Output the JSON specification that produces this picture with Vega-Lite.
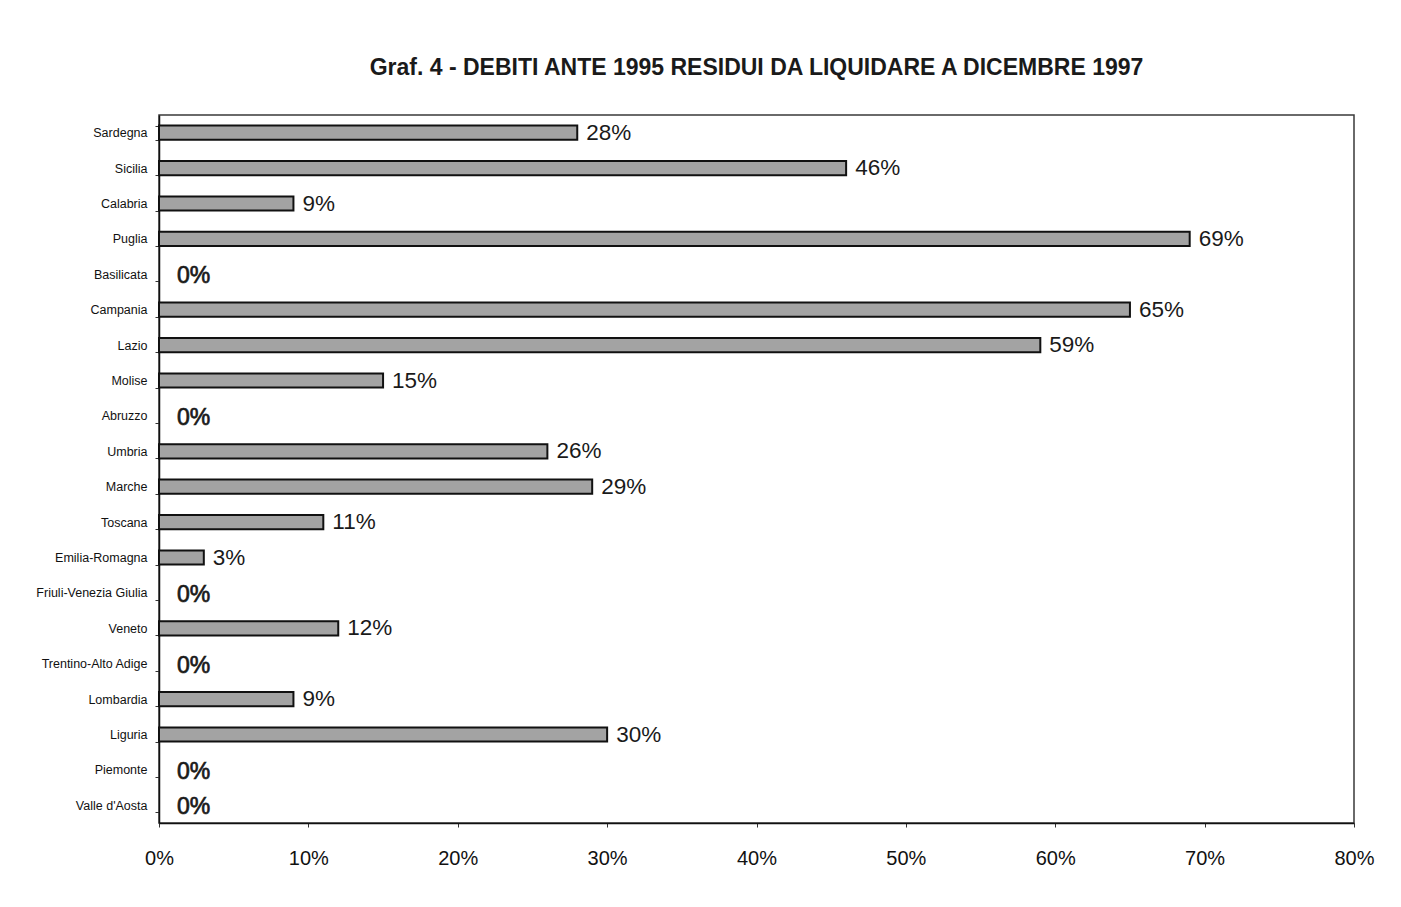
{
  "$schema": "https://vega.github.io/schema/vega-lite/v6.json",
  "width": 1195,
  "height": 708,
  "autosize": {"type": "none"},
  "padding": {"left": 159, "top": 115, "right": 47, "bottom": 84},
  "background": "white",
  "title": {
    "text": "Graf. 4 - DEBITI ANTE 1995 RESIDUI DA LIQUIDARE A DICEMBRE 1997",
    "font": "Liberation Sans",
    "fontSize": 23,
    "fontWeight": "bold",
    "color": "#1a1a1a",
    "anchor": "middle",
    "baseline": "alphabetic",
    "offset": 11
  },
  "config": {
    "view": {"stroke": "#3a3a3a", "strokeWidth": 1.5},
    "axis": {"labelFont": "Liberation Sans", "labelColor": "#111", "domainColor": "#111", "tickColor": "#333", "grid": false}
  },
  "data": {
    "values": [
      {"regione": "Sardegna", "quota": 0.28},
      {"regione": "Sicilia", "quota": 0.46},
      {"regione": "Calabria", "quota": 0.09},
      {"regione": "Puglia", "quota": 0.69},
      {"regione": "Basilicata", "quota": 0},
      {"regione": "Campania", "quota": 0.65},
      {"regione": "Lazio", "quota": 0.59},
      {"regione": "Molise", "quota": 0.15},
      {"regione": "Abruzzo", "quota": 0},
      {"regione": "Umbria", "quota": 0.26},
      {"regione": "Marche", "quota": 0.29},
      {"regione": "Toscana", "quota": 0.11},
      {"regione": "Emilia-Romagna", "quota": 0.03},
      {"regione": "Friuli-Venezia Giulia", "quota": 0},
      {"regione": "Veneto", "quota": 0.12},
      {"regione": "Trentino-Alto Adige", "quota": 0},
      {"regione": "Lombardia", "quota": 0.09},
      {"regione": "Liguria", "quota": 0.30},
      {"regione": "Piemonte", "quota": 0},
      {"regione": "Valle d'Aosta", "quota": 0}
    ]
  },
  "encoding": {
    "y": {
      "field": "regione",
      "type": "nominal",
      "sort": ["Sardegna", "Sicilia", "Calabria", "Puglia", "Basilicata", "Campania", "Lazio", "Molise", "Abruzzo", "Umbria", "Marche", "Toscana", "Emilia-Romagna", "Friuli-Venezia Giulia", "Veneto", "Trentino-Alto Adige", "Lombardia", "Liguria", "Piemonte", "Valle d'Aosta"],
      "title": null,
      "scale": {"paddingInner": 0.6, "paddingOuter": 0.3},
      "axis": {
        "labelFontSize": 12.5,
        "tickBand": "extent",
        "tickSize": 4,
        "labelPadding": 8,
        "domainWidth": 1.5
      }
    },
    "x": {
      "field": "quota",
      "type": "quantitative",
      "title": null,
      "scale": {"domain": [0, 0.8], "nice": false},
      "axis": {
        "values": [0, 0.1, 0.2, 0.3, 0.4, 0.5, 0.6, 0.7, 0.8],
        "format": ".0%",
        "labelFontSize": 20,
        "labelPadding": 21,
        "labelFlush": false,
        "tickSize": 4,
        "domainWidth": 1.5
      }
    }
  },
  "layer": [
    {
      "transform": [{"filter": "datum.quota > 0"}],
      "mark": {"type": "bar", "fill": "#a3a3a3", "stroke": "#111", "strokeWidth": 2}
    },
    {
      "transform": [{"filter": "datum.quota > 0"}],
      "mark": {"type": "text", "align": "left", "baseline": "middle", "dx": 9, "font": "Liberation Sans", "fontSize": 22.5, "color": "#1a1a1a"},
      "encoding": {"text": {"field": "quota", "type": "quantitative", "format": ".0%"}}
    },
    {
      "transform": [{"filter": "datum.quota == 0"}],
      "mark": {"type": "text", "align": "left", "baseline": "middle", "dx": 18, "dy": 2, "font": "Liberation Sans", "fontSize": 23, "color": "#1a1a1a", "stroke": "#1a1a1a", "strokeWidth": 0.7},
      "encoding": {"text": {"field": "quota", "type": "quantitative", "format": ".0%"}}
    }
  ]
}
